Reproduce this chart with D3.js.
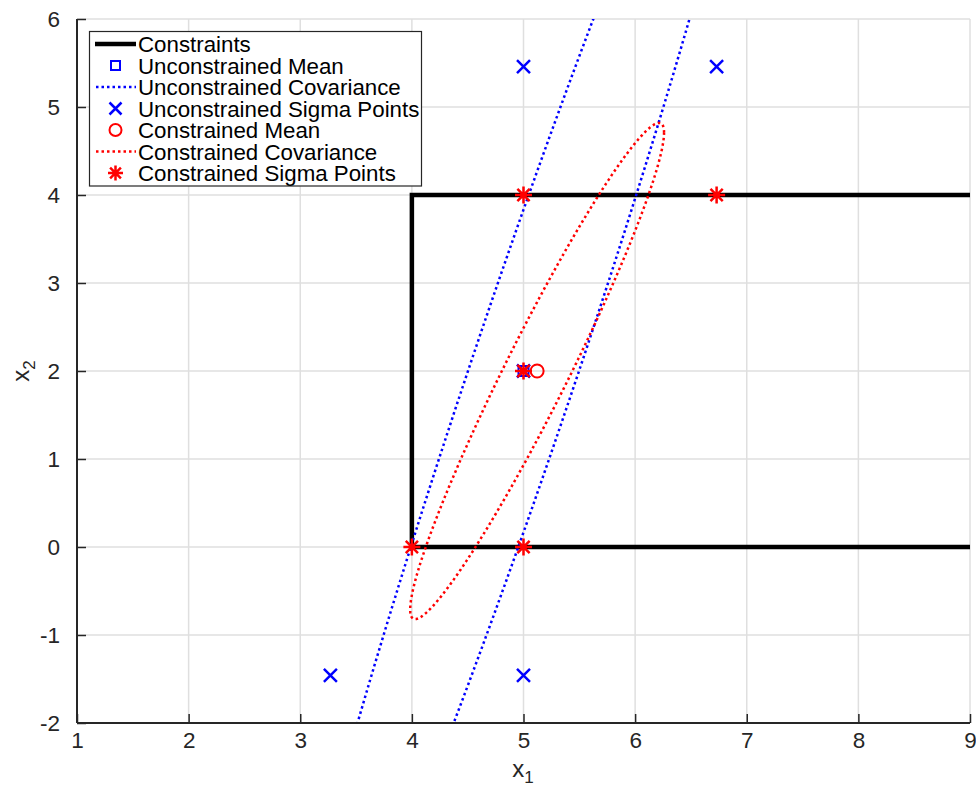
<!DOCTYPE html>
<html><head><meta charset="utf-8">
<script src="https://cdn.jsdelivr.net/npm/d3@7"></script>
<style>body{margin:0;background:#fff;} svg{display:block;font-family:"Liberation Sans",Arial,Helvetica,sans-serif;}</style>
</head><body>
<svg id="chart" width="976" height="789"></svg>
<script>
// ---- data ----
const xTicks = [1,2,3,4,5,6,7,8,9];
const yTicks = [-2,-1,0,1,2,3,4,5,6];
const constraintsX = [9,4,4,9];
const constraintsY = [4,4,0,0];
const unconsMean = [5,2];
const unconsSigmaX = [5,6.73,5,3.27,5];
const unconsSigmaY = [2,5.46,5.46,-1.46,-1.46];
const consMean = [5.122,2];
const consSigmaX = [5,6.73,5,4,5];
const consSigmaY = [2,4,4,0,0];
// covariance ellipses: [Pxx, Pxy, Pyy] (scaled), centred on the means
const unconsCov = [4.71,16.9,64];
const consCov = [1.293,3.08,7.95];
const legendLabels = ["Constraints","Unconstrained Mean","Unconstrained Covariance","Unconstrained Sigma Points","Constrained Mean","Constrained Covariance","Constrained Sigma Points"];

// ---- layout ----
const L=77,R=970,T=19,B=723;
const x=d3.scaleLinear().domain([1,9]).range([L,R]);
const y=d3.scaleLinear().domain([-2,6]).range([B,T]);
const svg=d3.select("#chart");
const axisCol="#262626", gridCol="#dfdfdf";
const BLUE="#0000ff", RED="#ff0000";

svg.append("defs").append("clipPath").attr("id","clip").append("rect")
  .attr("x",L).attr("y",T).attr("width",R-L).attr("height",B-T);

// grid
const g=svg.append("g");
g.selectAll(".gx").data(xTicks).join("line").attr("x1",d=>x(d)).attr("x2",d=>x(d)).attr("y1",T).attr("y2",B)
  .attr("stroke",gridCol).attr("stroke-width",1.5);
g.selectAll(".gy").data(yTicks).join("line").attr("y1",d=>y(d)).attr("y2",d=>y(d)).attr("x1",L).attr("x2",R)
  .attr("stroke",gridCol).attr("stroke-width",1.5);

// axes
const xAxis=d3.axisBottom(x).tickValues(xTicks).tickSize(-9).tickPadding(18).tickFormat(d3.format("d"));
const yAxis=d3.axisLeft(y).tickValues(yTicks).tickSize(-9).tickPadding(17).tickFormat(d=>d<0?"-"+Math.abs(d):String(d));
const ax=svg.append("g").attr("transform",`translate(0,${B})`).call(xAxis);
const ay=svg.append("g").attr("transform",`translate(${L},0)`).call(yAxis);
[ax,ay].forEach(a=>{
  a.select(".domain").remove();
  a.selectAll(".tick line").attr("stroke",axisCol).attr("stroke-width",1.5);
  a.selectAll(".tick text").attr("fill",axisCol).attr("font-size",22.5).attr("font-family","Liberation Sans, Arial, sans-serif");
});
ax.selectAll(".tick text").attr("dy","0.71em").attr("y",9);

const plot=svg.append("g").attr("clip-path","url(#clip)");
const line=d3.line().x(d=>x(d[0])).y(d=>y(d[1]));

// constraints
plot.append("path").datum(constraintsX.map((v,i)=>[v,constraintsY[i]])).attr("d",line)
  .attr("fill","none").attr("stroke","#000").attr("stroke-width",4.5).attr("stroke-linejoin","miter");

function ellipsePts(c,cov){
  const a=Math.sqrt(cov[0]), b=cov[1]/a, cc=Math.sqrt(cov[2]-b*b);
  return d3.range(0,361,1).map(k=>{const t=k*Math.PI/180;const u=Math.cos(t),v=Math.sin(t);
    return [c[0]+a*u, c[1]+b*u+cc*v];});
}
function marker(sel,type,cx,cy,col,s){
  const gg=sel.append("g").attr("transform",`translate(${cx},${cy})`).attr("stroke",col).attr("fill","none").attr("stroke-width",2);
  if(type==="square") gg.append("rect").attr("x",-s/2).attr("y",-s/2).attr("width",s).attr("height",s);
  if(type==="circle") gg.append("circle").attr("r",s/2);
  if(type==="x"){gg.append("path").attr("d",`M${-s/2},${-s/2}L${s/2},${s/2}M${-s/2},${s/2}L${s/2},${-s/2}`).attr("stroke-width",2.5);}
  if(type==="star"){const h=s/2,d=h*0.72;gg.append("path").attr("d",`M${-h},0L${h},0M0,${-h}L0,${h}M${-d},${-d}L${d},${d}M${-d},${d}L${d},${-d}`).attr("stroke-width",2.5);}
}

// unconstrained mean
marker(plot,"square",x(unconsMean[0]),y(unconsMean[1]),BLUE,10);
// unconstrained covariance
plot.append("path").datum(ellipsePts(unconsMean,unconsCov)).attr("d",line).attr("fill","none")
  .attr("stroke",BLUE).attr("stroke-width",2.5).attr("stroke-dasharray","2.5 3");
// unconstrained sigma points
unconsSigmaX.forEach((v,i)=>marker(plot,"x",x(v),y(unconsSigmaY[i]),BLUE,13));
// constrained mean
marker(plot,"circle",x(consMean[0]),y(consMean[1]),RED,13);
// constrained covariance
plot.append("path").datum(ellipsePts(consMean,consCov)).attr("d",line).attr("fill","none")
  .attr("stroke",RED).attr("stroke-width",2.5).attr("stroke-dasharray","2.5 3");
// constrained sigma points
consSigmaX.forEach((v,i)=>marker(plot,"star",x(v),y(consSigmaY[i]),RED,17));

// axis lines
svg.append("line").attr("x1",L).attr("x2",R).attr("y1",B).attr("y2",B).attr("stroke",axisCol).attr("stroke-width",2);
svg.append("line").attr("x1",L).attr("x2",L).attr("y1",T).attr("y2",B).attr("stroke",axisCol).attr("stroke-width",2);

// axis labels
const xl=svg.append("text").attr("x",523).attr("y",777).attr("text-anchor","middle").attr("font-size",24).attr("fill",axisCol);
xl.append("tspan").text("x");
xl.append("tspan").attr("font-size",17).attr("dy",6).text("1");
const yl=svg.append("text").attr("transform","translate(29,371) rotate(-90)").attr("text-anchor","middle").attr("font-size",24).attr("fill",axisCol);
yl.append("tspan").text("x");
yl.append("tspan").attr("font-size",17).attr("dy",6).text("2");

// legend
const lg=svg.append("g");
lg.append("rect").attr("x",89.5).attr("y",31.5).attr("width",332).attr("height",154.5)
  .attr("fill","#fff").attr("stroke",axisCol).attr("stroke-width",1.2);
const types=["line","square","dotline","x","circle","dotline","star"];
const cols=["#000",BLUE,BLUE,BLUE,RED,RED,RED];
legendLabels.forEach((lab,i)=>{
  const cy=44+i*21.5;
  const t=types[i];
  if(t==="line") lg.append("line").attr("x1",95).attr("x2",136).attr("y1",cy).attr("y2",cy).attr("stroke","#000").attr("stroke-width",4.5);
  else if(t==="dotline") lg.append("line").attr("x1",96).attr("x2",136).attr("y1",cy).attr("y2",cy).attr("stroke",cols[i]).attr("stroke-width",2.5).attr("stroke-dasharray","2.5 3");
  else marker(lg,t,115.5,cy,cols[i],t==="square"?9:(t==="star"?15:12));
  lg.append("text").attr("x",138).attr("y",cy).attr("dy","0.36em").attr("font-size",22.3).attr("fill","#000").text(lab);
});
</script>
</body></html>
